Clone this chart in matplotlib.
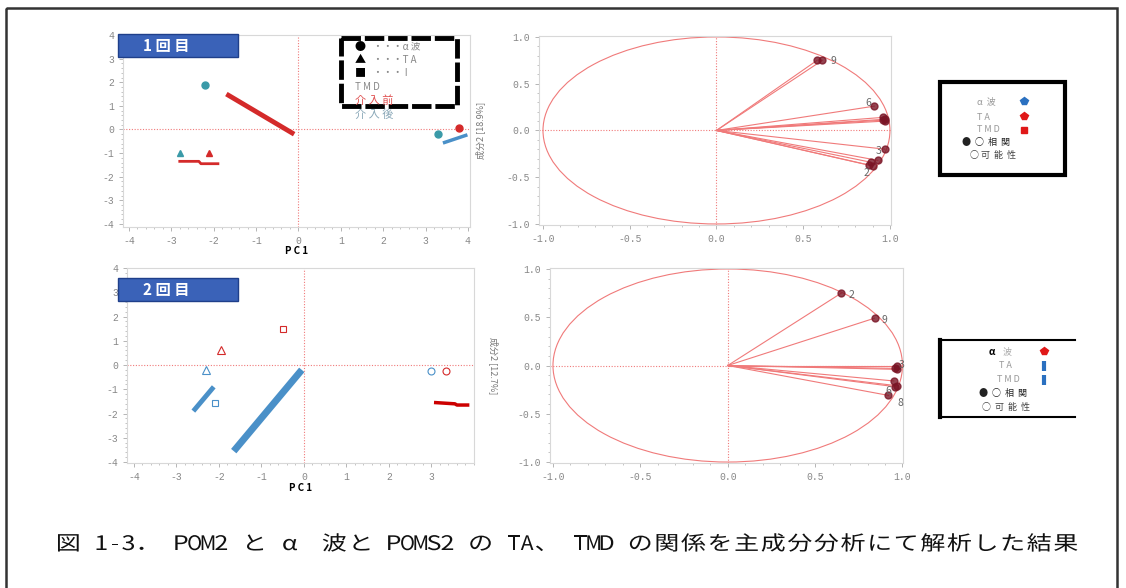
import numpy as np
import matplotlib.pyplot as plt
from matplotlib.patches import Rectangle, Circle, PathPatch
from matplotlib.textpath import TextPath
from matplotlib.font_manager import FontProperties
from matplotlib.transforms import Affine2D

plt.rcParams['font.family'] = ['Noto Sans CJK JP', 'DejaVu Sans']

W, H = 1126, 588

# 1回目 主成分得点 (塗りつぶし)
c1_pre_x = [3.8]
c1_pre_y = [0.05]
c1_post_x = [-2.2, 3.3]
c1_post_y = [1.9, -0.2]
t1_pre_x = [-2.1]
t1_pre_y = [-1.0]
t1_post_x = [-2.8]
t1_post_y = [-1.0]
# 1回目 線状に重なった点
l1_red_a_x = [-1.7, -0.1]
l1_red_a_y = [1.5, -0.2]
l1_red_b_x = [-2.8, -2.35, -2.3, -1.9]
l1_red_b_y = [-1.35, -1.35, -1.45, -1.45]
l1_blue_x = [3.45, 3.95]
l1_blue_y = [-0.55, -0.25]

# 2回目 主成分得点 (白抜き)
s2_pre_x = [-0.5]
s2_pre_y = [1.5]
s2_post_x = [-2.1]
s2_post_y = [-1.55]
t2_pre_x = [-1.95]
t2_pre_y = [0.6]
t2_post_x = [-2.3]
t2_post_y = [-0.2]
c2_pre_x = [3.35]
c2_pre_y = [-0.25]
c2_post_x = [3.0]
c2_post_y = [-0.25]
l2_blue_a_x = [-1.65, -0.05]
l2_blue_a_y = [-3.55, -0.2]
l2_blue_b_x = [-2.6, -2.12]
l2_blue_b_y = [-1.9, -0.9]
l2_red_x = [3.1, 3.55, 3.6, 3.85]
l2_red_y = [-1.55, -1.6, -1.65, -1.65]

# 負荷量 1回目
ld1_x = [0.58, 0.61, 0.91, 0.96, 0.97, 0.97, 0.96, 0.97, 0.93, 0.89, 0.90, 0.88]
ld1_y = [0.75, 0.75, 0.26, 0.14, 0.12, 0.10, 0.11, -0.20, -0.32, -0.34, -0.38, -0.37]
ld1_lab = ['9', '6', '3', '2']
ld1_lab_x = [0.66, 0.86, 0.92, 0.85]
ld1_lab_y = [0.74, 0.29, -0.22, -0.45]

# 負荷量 2回目
ld2_x = [0.65, 0.84, 0.97, 0.96, 0.97, 0.95, 0.96, 0.97, 0.92]
ld2_y = [0.75, 0.49, 0.00, -0.03, -0.04, -0.16, -0.22, -0.21, -0.31]
ld2_lab = ['2', '9', '3', '6', '8']
ld2_lab_x = [0.69, 0.88, 0.98, 0.90, 0.97]
ld2_lab_y = [0.73, 0.47, 0.01, -0.26, -0.39]

caption = '図 1-3． POM2 と α 波と POMS2 の TA、 TMD の関係を主成分分析にて解析した結果'

RED = '#d42a2a'
BLUE = '#4a90c8'
TEAL = '#3a9aa8'
PINK = '#f07a7a'
DARK = '#7a1526'

fig = plt.figure(figsize=(W / 100, H / 100), dpi=100)


def axes_px(x0, y0, x1, y1):
    return fig.add_axes([x0 / W, 1 - y1 / H, (x1 - x0) / W, (y1 - y0) / H])


def style(ax, ticks, fmt):
    for s in ax.spines.values():
        s.set_color('#d8d8d8')
        s.set_linewidth(0.8)
    ax.set_xticks(ticks)
    ax.set_yticks(ticks)
    ax.set_xticklabels([fmt.format(t) for t in ticks], family='Liberation Mono')
    ax.set_yticklabels([fmt.format(t) for t in ticks], family='Liberation Mono')
    ax.tick_params(colors='#aaaaaa', labelcolor='#888888', labelsize=7,
                   length=3, width=0.6)
    ax.axhline(0, color=PINK, lw=0.8, ls=(0, (1, 1.5)), zorder=1)
    ax.axvline(0, color=PINK, lw=0.8, ls=(0, (1, 1.5)), zorder=1)


# 1回目 得点プロット
ax1 = axes_px(123, 35, 470, 227)
ax1.set_xlim(-4.14, 4.05)
ax1.set_ylim(-4.13, 4.0)
style(ax1, [-4, -3, -2, -1, 0, 1, 2, 3, 4], '{:d}')
ax1.plot(c1_pre_x, c1_pre_y, 'o', color=RED, ms=5)
ax1.plot(c1_post_x, c1_post_y, 'o', color=TEAL, ms=5)
ax1.plot(t1_pre_x, t1_pre_y, '^', color=RED, ms=5)
ax1.plot(t1_post_x, t1_post_y, '^', color=TEAL, ms=5)
ax1.plot(l1_red_a_x, l1_red_a_y, color=RED, lw=3.5, solid_capstyle='butt')
ax1.plot(l1_red_b_x, l1_red_b_y, color=RED, lw=2)
ax1.plot(l1_blue_x, l1_blue_y, color=BLUE, lw=2.5)
ax1.set_xlabel('P C 1', fontsize=7, fontweight='bold', labelpad=0)

# 1回目 負荷量プロット
ax2 = axes_px(539, 36, 891, 225)
ax2.set_xlim(-1.023, 1.006)
ax2.set_ylim(-1.011, 1.01)
style(ax2, [-1.0, -0.5, 0.0, 0.5, 1.0], '{:.1f}')
ax2.add_patch(Circle((0, 0), 1, fill=False, color=PINK, lw=0.8))
for x, y in zip(ld1_x, ld1_y):
    ax2.plot([0, x], [0, y], color=PINK, lw=0.8)
ax2.plot(ld1_x, ld1_y, 'o', color=DARK, ms=5, alpha=0.8)
for t, x, y in zip(ld1_lab, ld1_lab_x, ld1_lab_y):
    ax2.text(x, y, t, fontsize=7.5, color='#666666', va='center')
ax2.set_ylabel('成分2 [18.9%]', fontsize=6.5, color='#777777')
ax2.yaxis.set_label_coords(-0.153, 0.5)

# 2回目 得点プロット
ax3 = axes_px(127, 268, 474, 463)
ax3.set_xlim(-4.16, 3.93)
ax3.set_ylim(-4.04, 4.0)
style(ax3, [-4, -3, -2, -1, 0, 1, 2, 3, 4], '{:d}')
ax3.plot(s2_pre_x, s2_pre_y, 's', mfc='none', mec=RED, ms=5, mew=0.8)
ax3.plot(s2_post_x, s2_post_y, 's', mfc='none', mec=BLUE, ms=5, mew=0.8)
ax3.plot(t2_pre_x, t2_pre_y, '^', mfc='none', mec=RED, ms=6, mew=0.8)
ax3.plot(t2_post_x, t2_post_y, '^', mfc='none', mec=BLUE, ms=6, mew=0.8)
ax3.plot(c2_pre_x, c2_pre_y, 'o', mfc='none', mec=RED, ms=5, mew=0.8)
ax3.plot(c2_post_x, c2_post_y, 'o', mfc='none', mec=BLUE, ms=5, mew=0.8)
ax3.plot(l2_blue_a_x, l2_blue_a_y, color=BLUE, lw=5, solid_capstyle='butt')
ax3.plot(l2_blue_b_x, l2_blue_b_y, color=BLUE, lw=3.5, solid_capstyle='butt')
ax3.plot(l2_red_x, l2_red_y, color='#cc0000', lw=2.5)
ax3.set_xticks([-4, -3, -2, -1, 0, 1, 2, 3])
ax3.set_xticklabels(['-4', '-3', '-2', '-1', '0', '1', '2', '3'],
                    family='Liberation Mono')
ax3.set_xlabel('P C 1', fontsize=7, fontweight='bold', labelpad=1)

# 2回目 負荷量プロット
ax4 = axes_px(550, 268, 903, 463)
ax4.set_xlim(-1.017, 1.003)
ax4.set_ylim(-1.01, 1.01)
style(ax4, [-1.0, -0.5, 0.0, 0.5, 1.0], '{:.1f}')
ax4.add_patch(Circle((0, 0), 1, fill=False, color=PINK, lw=0.8))
for x, y in zip(ld2_x, ld2_y):
    ax4.plot([0, x], [0, y], color=PINK, lw=0.8)
ax4.plot(ld2_x, ld2_y, 'o', color=DARK, ms=5, alpha=0.8)
for t, x, y in zip(ld2_lab, ld2_lab_x, ld2_lab_y):
    ax4.text(x, y, t, fontsize=7.5, color='#666666', va='center')
ax4.set_ylabel('成分2 [12.7%]', fontsize=6.5, color='#777777', rotation=270)
ax4.yaxis.set_label_coords(-0.173, 0.5)

for ax in (ax1, ax2, ax3, ax4):
    ax.minorticks_on()
    ax.tick_params(which='minor', length=1.5, color='#bbbbbb')

# 注記用のピクセル座標レイヤー
ov = fig.add_axes([0, 0, 1, 1], zorder=10)
ov.set_xlim(0, W)
ov.set_ylim(H, 0)
ov.axis('off')
ov.patch.set_alpha(0)

# 外枠
ov.add_patch(Rectangle((6, 8), 1111, 600, fill=False, ec='#333333', lw=1.8))

# 回数ラベル
for y0, lab in ((34, '1 回 目'), (278, '2 回 目')):
    ov.add_patch(Rectangle((118, y0), 120, 23, fc='#3a62b8', ec='#1f3f8a', lw=1))
    ov.text(166, y0 + 12, lab, color='white', fontsize=11, fontweight='bold',
            ha='center', va='center')

# 左上の凡例
ov.add_patch(Rectangle((341, 38), 116, 68, fill=False, ec='black', lw=3.5,
                       ls=(0, (4, 0.8))))
ov.text(360, 47, '●', fontsize=8, ha='center', va='center')
ov.text(360, 60, '▲', fontsize=8, ha='center', va='center')
ov.text(360, 73, '■', fontsize=8, ha='center', va='center')
ov.text(373, 47, '・・・α 波', fontsize=7, color='#888888', va='center')
ov.text(373, 60, '・・・T A', fontsize=7, color='#888888', va='center')
ov.text(373, 73, '・・・ I', fontsize=7, color='#888888', va='center')
ov.text(355, 87, 'T M D', fontsize=7, color='#888888', va='center')
ov.text(355, 101, '介 入 前', fontsize=8, color='#e05050', va='center')
ov.text(355, 115, '介 入 後', fontsize=8, color='#8aa8b8', va='center')

# 右上の凡例
ov.add_patch(Rectangle((940, 82), 125, 93, fill=False, ec='black', lw=3))
ov.text(977, 102, 'α  波', fontsize=6.5, color='#999999', va='center')
ov.text(977, 117, 'T A', fontsize=6.5, color='#999999', va='center')
ov.text(977, 130, 'T M D', fontsize=6.5, color='#999999', va='center')
ov.plot([1024], [101], 'p', color='#2a70c0', ms=6)
ov.plot([1024], [116], 'p', color='#e01818', ms=6)
ov.plot([1024], [130], 's', color='#e01818', ms=5)
ov.text(962, 142, '●  ○  相  関', fontsize=6.5, color='#222222', va='center')
ov.text(970, 155, '○ 可  能  性', fontsize=6.5, color='#444444', va='center')

# 右下の凡例
ov.plot([940, 940], [340, 417], color='black', lw=3)
ov.plot([940, 1075], [340, 340], color='black', lw=1.5)
ov.plot([940, 1075], [417, 417], color='black', lw=1.5)
ov.text(989, 352, 'α', fontsize=7, color='black', fontweight='bold', va='center')
ov.text(1003, 352, '波', fontsize=6.5, color='#aaaaaa', va='center')
ov.text(999, 366, 'T A', fontsize=6.5, color='#999999', va='center')
ov.text(997, 380, 'T M D', fontsize=6.5, color='#999999', va='center')
ov.plot([1044], [351], 'p', color='#e01818', ms=6)
ov.plot([1044], [366], '|', color='#2a70c0', ms=7, mew=3)
ov.plot([1044], [380], '|', color='#2a70c0', ms=7, mew=3)
ov.text(979, 393, '●  ○  相  関', fontsize=6.5, color='#222222', va='center')
ov.text(982, 407, '○  可  能  性', fontsize=6.5, color='#444444', va='center')

# 図のキャプション (等幅・横長の文字組みを再現)
fp = FontProperties(family='Noto Sans CJK JP')
half = 13.3
size = 20
xpos = 55
for ch in caption:
    full = ord(ch) > 0x2000 or ch == 'α'
    slot = half * (2 if full else 1)
    if ch != ' ':
        tp = TextPath((0, 0), ch, size=size, prop=fp)
        if full:
            sx = 1.25
            tr = Affine2D().scale(sx, -1).translate(xpos + (slot - size * sx) / 2, 550)
        else:
            ext = tp.get_extents()
            sx = min(1.25, 0.95 * slot / ext.width)
            cx = ext.x0 + ext.width / 2
            tr = Affine2D().translate(-cx, 0).scale(sx, -1).translate(xpos + slot / 2, 550)
        ov.add_patch(PathPatch(tr.transform_path(tp), fc='#111111', lw=0))
    xpos += slot

fig.savefig('out.png', dpi=100)
